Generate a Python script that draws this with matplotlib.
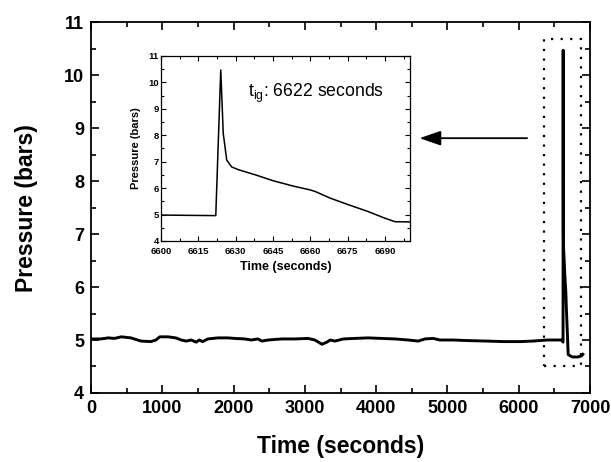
import numpy as np
import matplotlib
matplotlib.use("Agg")
import matplotlib.pyplot as plt
from matplotlib.patches import Rectangle
from matplotlib.ticker import MultipleLocator

plt.rcParams['font.family'] = ['Liberation Sans', 'DejaVu Sans']
plt.rcParams['mathtext.fontset'] = 'custom'
plt.rcParams['mathtext.rm'] = 'Liberation Sans'

# baseline run (seconds, bars)
base_t = [0, 140, 240, 330, 425, 560, 700, 840, 910, 965, 1080, 1190, 1265,
          1335, 1405, 1475, 1520, 1565, 1640, 1780, 1920, 2015, 2155, 2250,
          2340, 2395, 2485, 2675, 2860, 3045, 3140, 3240, 3310, 3355, 3420,
          3540, 3700, 3885, 4075, 4265, 4450, 4590, 4685, 4800, 4895, 5080,
          5270, 5550, 5785, 6020, 6200, 6395, 6600]
base_p = [5.02, 5.02, 5.04, 5.03, 5.06, 5.04, 4.98, 4.97, 5.00, 5.06, 5.06,
          5.04, 5.00, 4.98, 5.00, 4.96, 5.00, 4.97, 5.02, 5.04, 5.04, 5.03,
          5.02, 5.00, 5.02, 4.98, 5.00, 5.02, 5.02, 5.03, 5.00, 4.92, 4.96,
          5.00, 4.98, 5.02, 5.03, 5.04, 5.03, 5.02, 5.00, 4.98, 5.02, 5.03,
          5.00, 5.00, 4.99, 4.98, 4.97, 4.97, 4.98, 5.00, 5.00]

# ignition event (inset detail)
ign_t = [6600, 6622, 6624, 6625, 6626.4, 6628.4, 6631, 6638, 6645, 6653,
         6660, 6662, 6668, 6675, 6683, 6690, 6694, 6700]
ign_p = [4.98, 4.96, 10.47, 8.07, 7.06, 6.80, 6.70, 6.50, 6.28, 6.08,
         5.93, 5.87, 5.62, 5.38, 5.12, 4.86, 4.73, 4.72]

# tail after the event
tail_t = [6750, 6830, 6880, 6900]
tail_p = [4.68, 4.68, 4.70, 4.73]

time = base_t + ign_t[1:] + tail_t
pres = base_p + ign_p[1:] + tail_p

fig = plt.figure(figsize=(6.11, 4.62), dpi=100)
ax = fig.add_axes([0.149, 0.1494, 0.8166, 0.8026])
ax.plot(time, pres, color='black', lw=2.1)
ax.set_xlim(0, 7000)
ax.set_ylim(4, 11)
ax.xaxis.set_major_locator(MultipleLocator(1000))
ax.xaxis.set_minor_locator(MultipleLocator(500))
ax.yaxis.set_major_locator(MultipleLocator(1))
ax.yaxis.set_minor_locator(MultipleLocator(0.5))
ax.tick_params(which='both', direction='in', top=True, right=True, width=1.2)
ax.tick_params(which='major', length=6, labelsize=13, pad=5)
ax.tick_params(which='minor', length=3.5)
for lab in ax.get_xticklabels() + ax.get_yticklabels():
    lab.set_fontweight('bold')
for s in ax.spines.values():
    s.set_linewidth(1.3)
ax.set_xlabel('Time (seconds)', fontsize=16.5, fontweight='bold', labelpad=13)
ax.set_ylabel('Pressure (bars)', fontsize=16.5, fontweight='bold', labelpad=19)

# dotted box round the event
ax.add_patch(Rectangle((6355, 4.51), 6873 - 6355, 10.68 - 4.51, fill=False,
                       ls=(0, (1, 3.3)), lw=1.6, color='black'))

# arrow pointing to the inset
ax.annotate('', xy=(4570, 8.81), xytext=(6157, 8.81),
            arrowprops=dict(arrowstyle='-|>,head_length=1.3,head_width=0.45',
                            color='black', lw=1.3))

ins = fig.add_axes([0.2635, 0.4784, 0.4075, 0.4004])
ins.plot(ign_t, ign_p, color='black', lw=1.1)
ins.set_xlim(6600, 6700)
ins.set_ylim(4, 11)
ins.xaxis.set_major_locator(MultipleLocator(15))
ins.xaxis.set_minor_locator(MultipleLocator(7.5))
ins.yaxis.set_major_locator(MultipleLocator(1))
ins.yaxis.set_minor_locator(MultipleLocator(0.5))
ins.tick_params(which='both', direction='in', top=True, right=True, width=0.8)
ins.tick_params(which='major', length=3.5, labelsize=6.8)
ins.tick_params(which='minor', length=2)
ins.tick_params(axis='x', pad=4)
ins.tick_params(axis='y', pad=1.5)
for lab in ins.get_xticklabels() + ins.get_yticklabels():
    lab.set_fontweight('bold')
for s in ins.spines.values():
    s.set_linewidth(0.9)
ins.set_xlabel('Time (seconds)', fontsize=9, fontweight='bold', labelpad=4)
ins.set_ylabel('Pressure (bars)', fontsize=8, fontweight='bold', labelpad=5)
ins.text(6635, 9.44, r'$\mathregular{t_{ig}}$: 6622 seconds', fontsize=12.7)

fig.savefig('out.png', dpi=100)
